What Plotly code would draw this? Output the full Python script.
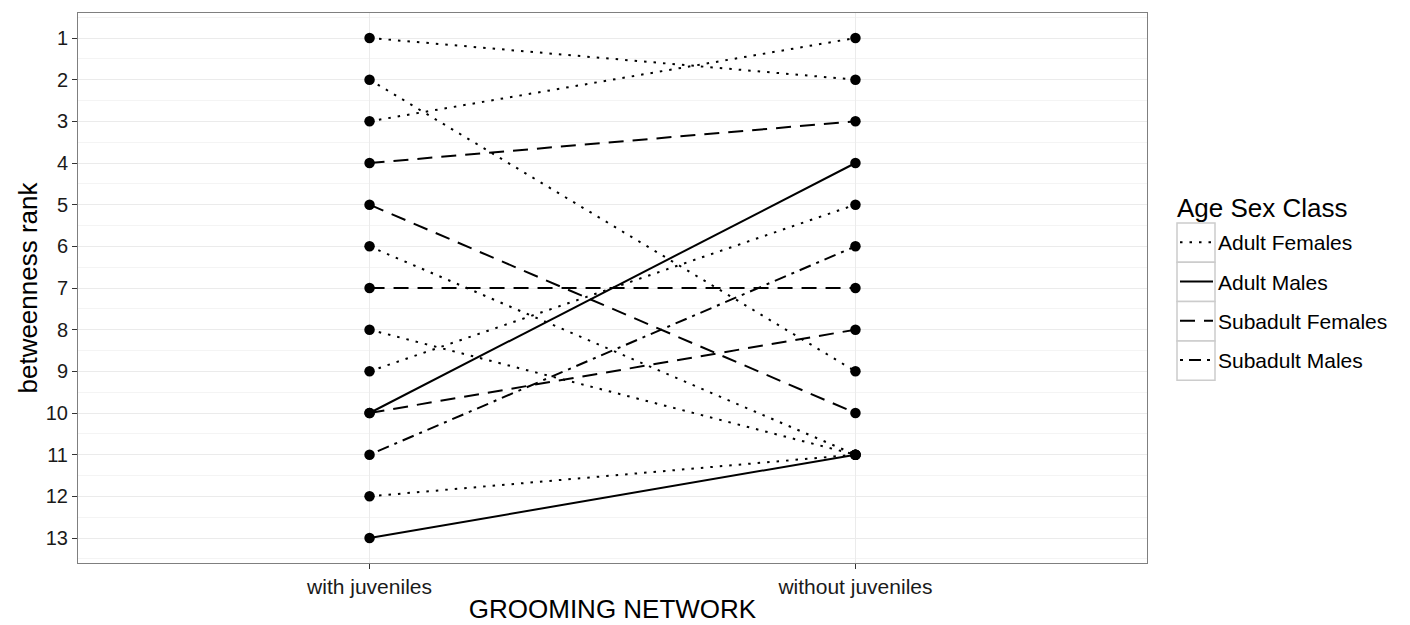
import plotly.graph_objects as go

# ---- data ----
networks = ["with juveniles", "without juveniles"]
classes = ["Adult Females", "Adult Males", "Subadult Females", "Subadult Males"]
individual_class = ["Adult Females", "Adult Females", "Adult Females", "Adult Females",
                    "Adult Females", "Adult Females", "Adult Females",
                    "Adult Males", "Adult Males",
                    "Subadult Females", "Subadult Females", "Subadult Females", "Subadult Females",
                    "Subadult Males"]
rank_with = [1, 2, 3, 6, 8, 9, 12, 10, 13, 4, 5, 7, 10, 11]
rank_without = [2, 9, 1, 11, 11, 5, 11, 4, 11, 3, 10, 7, 8, 6]
y_ticks = list(range(1, 14))
legend_title = "Age Sex Class"

dash_styles = {
    "Adult Females": "2.5px,7px",
    "Adult Males": "solid",
    "Subadult Females": "15px,9px",
    "Subadult Males": "3px,6px,12px,6px",
}

FONT = "Liberation Sans, Arial, Helvetica, sans-serif"

fig = go.Figure()

for cls in classes:
    xs, ys = [], []
    for c, a, b in zip(individual_class, rank_with, rank_without):
        if c == cls:
            xs += [networks[0], networks[1], None]
            ys += [a, b, None]
    fig.add_trace(go.Scatter(
        x=xs, y=ys, mode="lines", name=cls,
        line=dict(color="black", width=2, dash=dash_styles[cls]),
        legendgroup=cls, connectgaps=False,
    ))

# points
px_, py_ = [], []
for a, b in zip(rank_with, rank_without):
    px_ += [networks[0], networks[1]]
    py_ += [a, b]
fig.add_trace(go.Scatter(x=px_, y=py_, mode="markers", showlegend=False,
                         marker=dict(color="black", size=10.5)))

grid_col = "#EBEBEB"
minor_col = "#F4F4F4"
fig.update_xaxes(
    type="category", categoryorder="array", categoryarray=networks,
    range=[-0.6, 1.6], showgrid=True, gridcolor=grid_col, gridwidth=1,
    ticks="outside", ticklen=5, tickcolor="#333333", tickwidth=1,
    tickfont=dict(family=FONT, size=21, color="#1a1a1a"),
    title=dict(text="GROOMING NETWORK", font=dict(family=FONT, size=26, color="black"),
               standoff=2),
    showline=True, linecolor="#7F7F7F", linewidth=1, mirror=True, zeroline=False,
    automargin=False,
)
fig.update_yaxes(
    range=[13.6, 0.4], tickmode="array", tickvals=y_ticks, ticktext=[str(v) for v in y_ticks],
    showgrid=True, gridcolor=grid_col, gridwidth=1,
    minor=dict(tickmode="array", tickvals=[v + 0.5 for v in range(0, 14)], showgrid=True,
               gridcolor=minor_col, gridwidth=1, ticks=""),
    ticks="outside", ticklen=5, tickcolor="#333333", tickwidth=1,
    tickfont=dict(family=FONT, size=20, color="#1a1a1a"),
    title=dict(text="betweenness rank", font=dict(family=FONT, size=26, color="black"),
               standoff=0),
    showline=True, linecolor="#7F7F7F", linewidth=1, mirror=True, zeroline=False,
    automargin=False,
)

# legend key boxes (ggplot-style key frames)
L, T, W, H = 78, 13, 1069, 550
def px_to_paper(x, y):
    return (x - L) / W, (T + H - y) / H

key_left, key_right = 1177, 1215
key_top, key_h = 223, 39.3
for i in range(len(classes)):
    x0, y0 = px_to_paper(key_left, key_top + i * key_h)
    x1, y1 = px_to_paper(key_right, key_top + (i + 1) * key_h)
    fig.add_shape(type="rect", xref="paper", yref="paper", x0=x0, x1=x1, y0=y1, y1=y0,
                  line=dict(color="#CCCCCC", width=1.5), fillcolor="white", layer="below")

tx, ty = px_to_paper(1175, 208)
fig.add_annotation(text=legend_title, xref="paper", yref="paper", x=tx, y=ty,
                   xanchor="left", yanchor="middle", showarrow=False,
                   font=dict(family=FONT, size=26, color="black"))

lx, ly = px_to_paper(1175, 222)
fig.update_layout(
    width=1410, height=625,
    margin=dict(l=L, r=1410 - L - W, t=T, b=625 - T - H),
    plot_bgcolor="white", paper_bgcolor="white",
    legend=dict(
        x=lx, y=ly, xanchor="left", yanchor="top",
        font=dict(family=FONT, size=21, color="black"),
        traceorder="grouped", tracegroupgap=9, itemwidth=33,
        bgcolor="rgba(0,0,0,0)",
    ),
    showlegend=True,
)

fig.write_html("out.html", post_script="document.body.style.margin='0';",
               config={"displayModeBar": False})
